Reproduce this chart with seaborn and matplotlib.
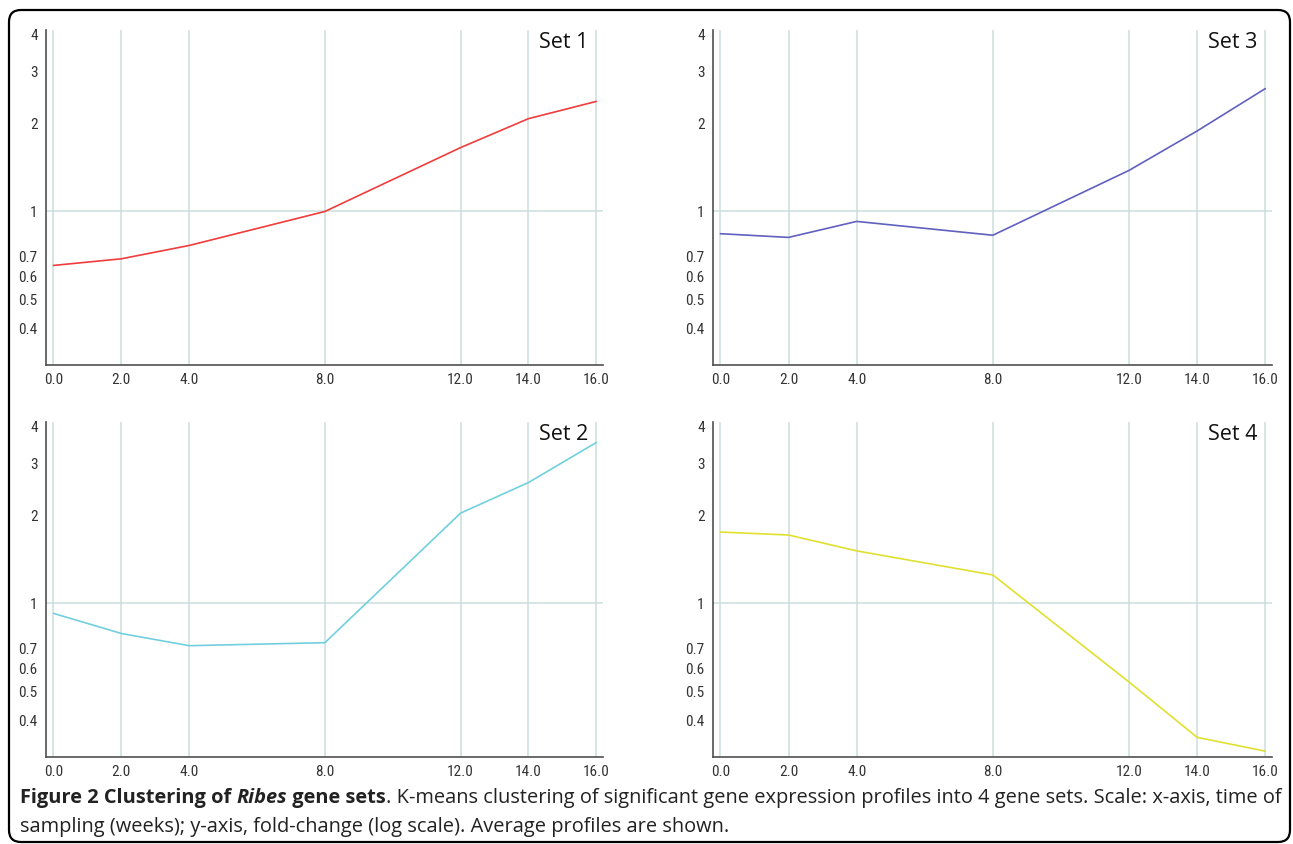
import pandas as pd
import matplotlib
matplotlib.use('Agg')
import matplotlib.pyplot as plt
import seaborn as sns
from matplotlib.patches import FancyBboxPatch
from matplotlib.ticker import NullLocator
from matplotlib import font_manager

# weeks of sampling (x) and average fold-change per gene set (y, log scale)
weeks = [0, 2, 4, 8, 12, 14, 16]
week_labels = ['0.0', '2.0', '4.0', '8.0', '12.0', '14.0', '16.0']
set1 = [0.655, 0.69, 0.766, 1.0, 1.65, 2.07, 2.37]
set2 = [0.925, 0.79, 0.718, 0.735, 2.03, 2.58, 3.53]
set3 = [0.84, 0.816, 0.925, 0.83, 1.38, 1.88, 2.62]
set4 = [1.75, 1.71, 1.51, 1.25, 0.54, 0.35, 0.314]
fold_ticks = [0.4, 0.5, 0.6, 0.7, 1, 2, 3, 4]
fold_labels = ['0.4', '0.5', '0.6', '0.7', '1', '2', '3', '4']

sns.set_style('white')

# narrow font for the tick labels if one is installed
names = {f.name for f in font_manager.fontManager.ttflist}
narrow = [n for n in ['Liberation Sans Narrow', 'DejaVu Sans Condensed', 'Roboto Condensed']
          if n in names]
plt.rcParams['font.family'] = narrow + ['DejaVu Sans']
tick_stretch = 'normal' if narrow else 'condensed'

grid_col = '#cddede'
axis_col = '#505050'

fig = plt.figure(figsize=(12.93, 8.44), dpi=100)

# rounded frame around the whole figure
frame = FancyBboxPatch((0.09, 0.02), 12.81, 8.32, boxstyle='round,pad=0,rounding_size=0.12',
                       transform=fig.dpi_scale_trans, fill=False, lw=1.6, ec='black')
fig.patches.append(frame)

panels = [
    (set1, 'Set 1', '#f03c3c', [0.0356, 0.5675, 0.4308, 0.397]),
    (set3, 'Set 3', '#6060c0', [0.5514, 0.5675, 0.4324, 0.397]),
    (set2, 'Set 2', '#72d0de', [0.0356, 0.1031, 0.4308, 0.397]),
    (set4, 'Set 4', '#e0e030', [0.5514, 0.1031, 0.4324, 0.397]),
]

for vals, name, col, rect in panels:
    ax = fig.add_axes(rect)
    df = pd.DataFrame({'week': weeks, 'fold': vals})
    for w in weeks:
        ax.axvline(w, color=grid_col, lw=1.1, zorder=0)
    ax.axhline(1, color=grid_col, lw=1.1, zorder=0)
    sns.lineplot(data=df, x='week', y='fold', color=col, lw=1.2, ax=ax)
    ax.set_yscale('log')
    ax.set_ylim(0.3, 4.15)
    ax.set_xlim(-0.22, 16.2)
    ax.set_yticks(fold_ticks)
    ax.set_yticklabels(fold_labels)
    ax.yaxis.set_minor_locator(NullLocator())
    ax.set_xticks(weeks)
    ax.set_xticklabels(week_labels)
    ax.set_xlabel('')
    ax.set_ylabel('')
    ax.tick_params(axis='both', direction='out', length=4, width=1, color=axis_col,
                   labelsize=11, pad=2, labelcolor='#333333')
    for lab in ax.get_xticklabels() + ax.get_yticklabels():
        lab.set_fontstretch(tick_stretch)
    for s in ['top', 'right']:
        ax.spines[s].set_visible(False)
    for s in ['left', 'bottom']:
        ax.spines[s].set_color(axis_col)
        ax.spines[s].set_linewidth(1.2)
    ax.text(0.973, 0.993, name, transform=ax.transAxes, ha='right', va='top',
            fontsize=15.5, family='Open Sans', color='#111111')

# caption (bold title + normal text), fitted to the frame width
line1 = [('Figure 2 Clustering of ', 'bold', 'normal'),
         ('Ribes', 'bold', 'italic'),
         (' gene sets', 'bold', 'normal'),
         ('. K-means clustering of significant gene expression profiles into 4 gene sets. '
          'Scale: x-axis, time of', 'normal', 'normal')]
line2 = 'sampling (weeks); y-axis, fold-change (log scale). Average profiles are shown.'

renderer = fig.canvas.get_renderer()
x0_px, x1_px = 20, 1278
W, H = fig.bbox.width, fig.bbox.height


def draw_line(parts, size, y_px):
    x = x0_px
    items = []
    for txt, wt, st in parts:
        t = fig.text(x / W, 1 - y_px / H, txt, fontsize=size, fontweight=wt, fontstyle=st,
                     family='Open Sans', color='#222222', ha='left', va='baseline')
        bb = t.get_window_extent(renderer)
        x += bb.width
        items.append(t)
    return x - x0_px, items


size = 12.0
width, items = draw_line(line1, size, 803)
for t in items:
    t.remove()
size = size * (x1_px - x0_px) / width
draw_line(line1, size, 803)
draw_line([(line2, 'normal', 'normal')], size, 832)

fig.savefig('out.png', dpi=100)
